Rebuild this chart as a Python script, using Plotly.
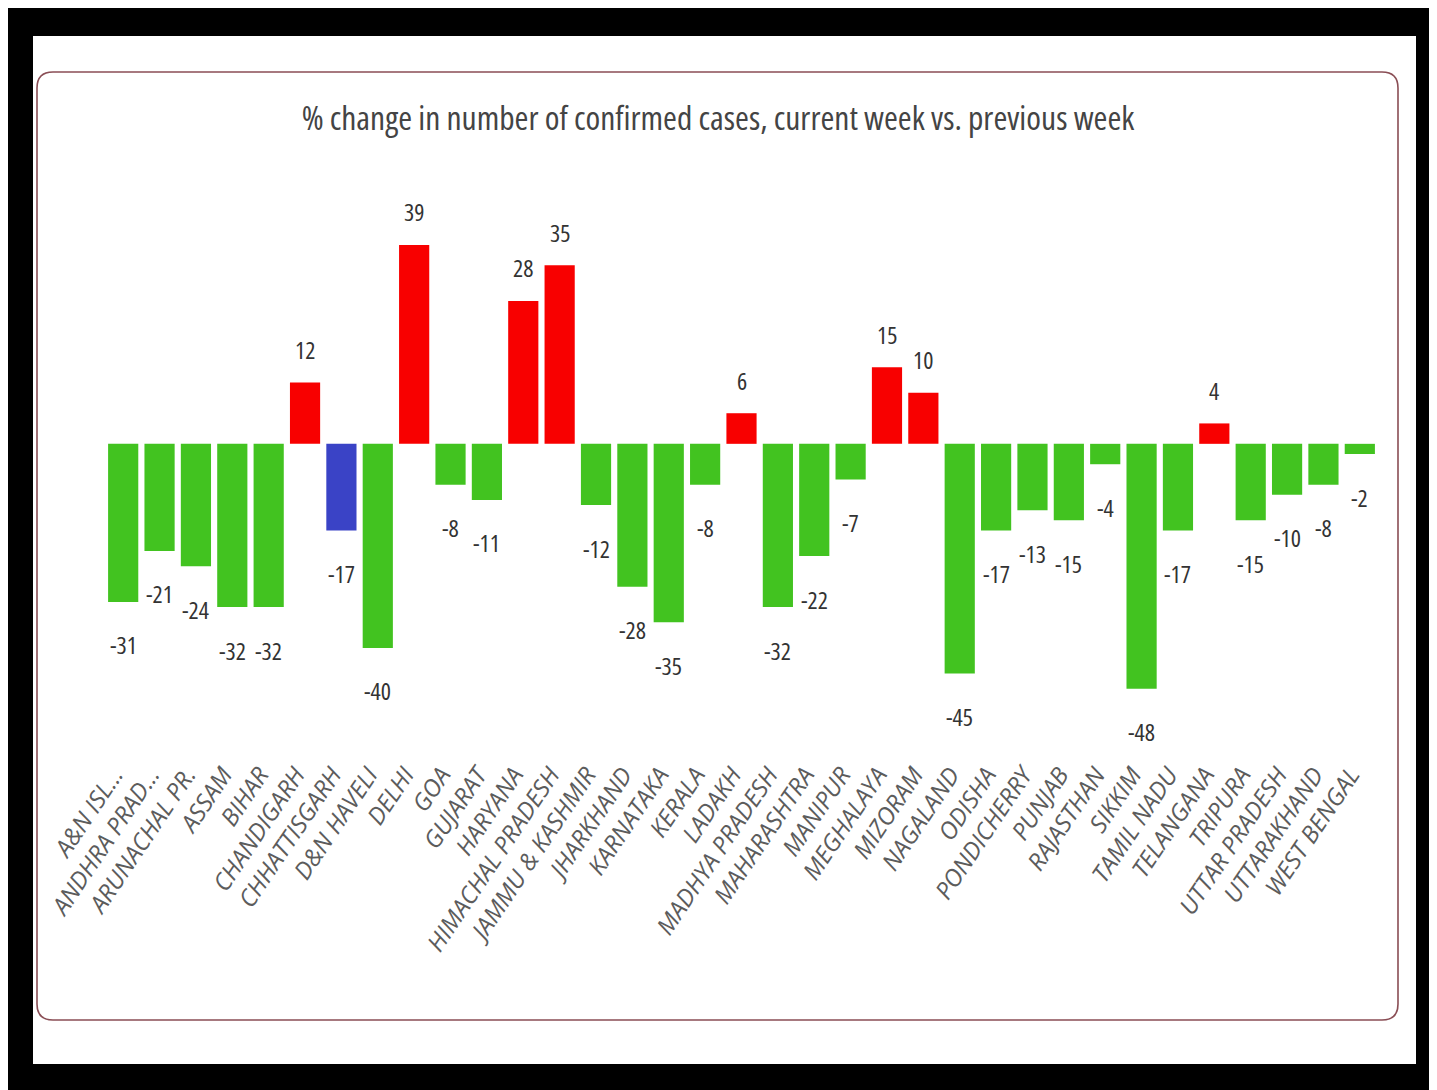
import plotly.graph_objects as go

categories = ["A&N ISL...", "ANDHRA PRAD...", "ARUNACHAL PR.", "ASSAM", "BIHAR", "CHANDIGARH",
              "CHHATTISGARH", "D&N HAVELI", "DELHI", "GOA", "GUJARAT", "HARYANA",
              "HIMACHAL PRADESH", "JAMMU & KASHMIR", "JHARKHAND", "KARNATAKA", "KERALA", "LADAKH",
              "MADHYA PRADESH", "MAHARASHTRA", "MANIPUR", "MEGHALAYA", "MIZORAM", "NAGALAND",
              "ODISHA", "PONDICHERRY", "PUNJAB", "RAJASTHAN", "SIKKIM", "TAMIL NADU",
              "TELANGANA", "TRIPURA", "UTTAR PRADESH", "UTTARAKHAND", "WEST BENGAL"]
values = [-31, -21, -24, -32, -32, 12, -17, -40, 39, -8, -11, 28, 35, -12, -28, -35, -8, 6,
          -32, -22, -7, 15, 10, -45, -17, -13, -15, -4, -48, -17, 4, -15, -10, -8, -2]
highlighted = ["CHHATTISGARH"]

title_text = "% change in number of confirmed cases, current week vs. previous week"

GREEN = "#42C320"
RED = "#F80000"
BLUE = "#3A43C6"
colors = [BLUE if c in highlighted else (RED if v > 0 else GREEN) for c, v in zip(categories, values)]

COND = "font-stretch:75%"

OFF = 8  # page body margin
W, H = 1437 - OFF, 1090 - OFF
L, R, T, B = 105 - OFF, 59, 150 - OFF, 335
pw, ph = W - L - R, H - T - B

def px(x):
    return (x - OFF - L) / pw

def py(y):
    return (H - B - (y - OFF)) / ph

fig = go.Figure(go.Bar(
    x=categories, y=values, marker=dict(color=colors, line=dict(width=0)),
    hoverinfo="x+y",
))

annotations = []
for c, v in zip(categories, values):
    annotations.append(dict(
        x=c, y=v, xref="x", yref="y", text=f"<span style='{COND}'>{v}</span>", showarrow=False,
        yanchor="middle", yshift=33 if v > 0 else -43,
        font=dict(family="Open Sans", size=24, color="#333333"),
    ))

def rounded_path(x0, y0, x1, y1, r):
    pts = [
        ("M", [(x0 + r, y0)]),
        ("L", [(x1 - r, y0)]),
        ("Q", [(x1, y0), (x1, y0 + r)]),
        ("L", [(x1, y1 - r)]),
        ("Q", [(x1, y1), (x1 - r, y1)]),
        ("L", [(x0 + r, y1)]),
        ("Q", [(x0, y1), (x0, y1 - r)]),
        ("L", [(x0, y0 + r)]),
        ("Q", [(x0, y0), (x0 + r, y0)]),
    ]
    s = ""
    for cmd, ps in pts:
        s += cmd + " " + " ".join(f"{px(a):.5f},{py(b):.5f}" for a, b in ps) + " "
    return s + "Z"

shapes = [
    dict(type="rect", xref="paper", yref="paper", x0=px(33), x1=px(1416), y0=py(36), y1=py(1064),
         fillcolor="white", line=dict(width=0), layer="below"),
    dict(type="path", xref="paper", yref="paper", path=rounded_path(37, 72, 1398, 1020, 16),
         line=dict(color="#8A4E55", width=1.6), fillcolor="rgba(0,0,0,0)", layer="below"),
]

fig.update_layout(
    width=W, height=H,
    margin=dict(l=L, r=R, t=T, b=B, pad=0),
    paper_bgcolor="black",
    plot_bgcolor="rgba(0,0,0,0)",
    bargap=0.17,
    showlegend=False,
    title=dict(text=f"<span style='{COND}'>{title_text}</span>", x=(718 - OFF) / W, xref="container",
               xanchor="center", y=1 - (118 - OFF) / H, yref="container", yanchor="middle",
               font=dict(family="Open Sans", size=33.5, color="#444444")),
    xaxis=dict(showgrid=False, showline=False, zeroline=False, ticks="", tickangle=-56,
               tickfont=dict(family="Open Sans, sans-serif", size=24, color="#5c5c5c", style="italic"),
               ticklabelshift=-9, automargin=False),
    yaxis=dict(showgrid=False, showline=False, zeroline=False, showticklabels=False,
               range=[-61, 57.6], fixedrange=True),
    annotations=annotations,
    shapes=shapes,
)

fig.write_html("out.html")
